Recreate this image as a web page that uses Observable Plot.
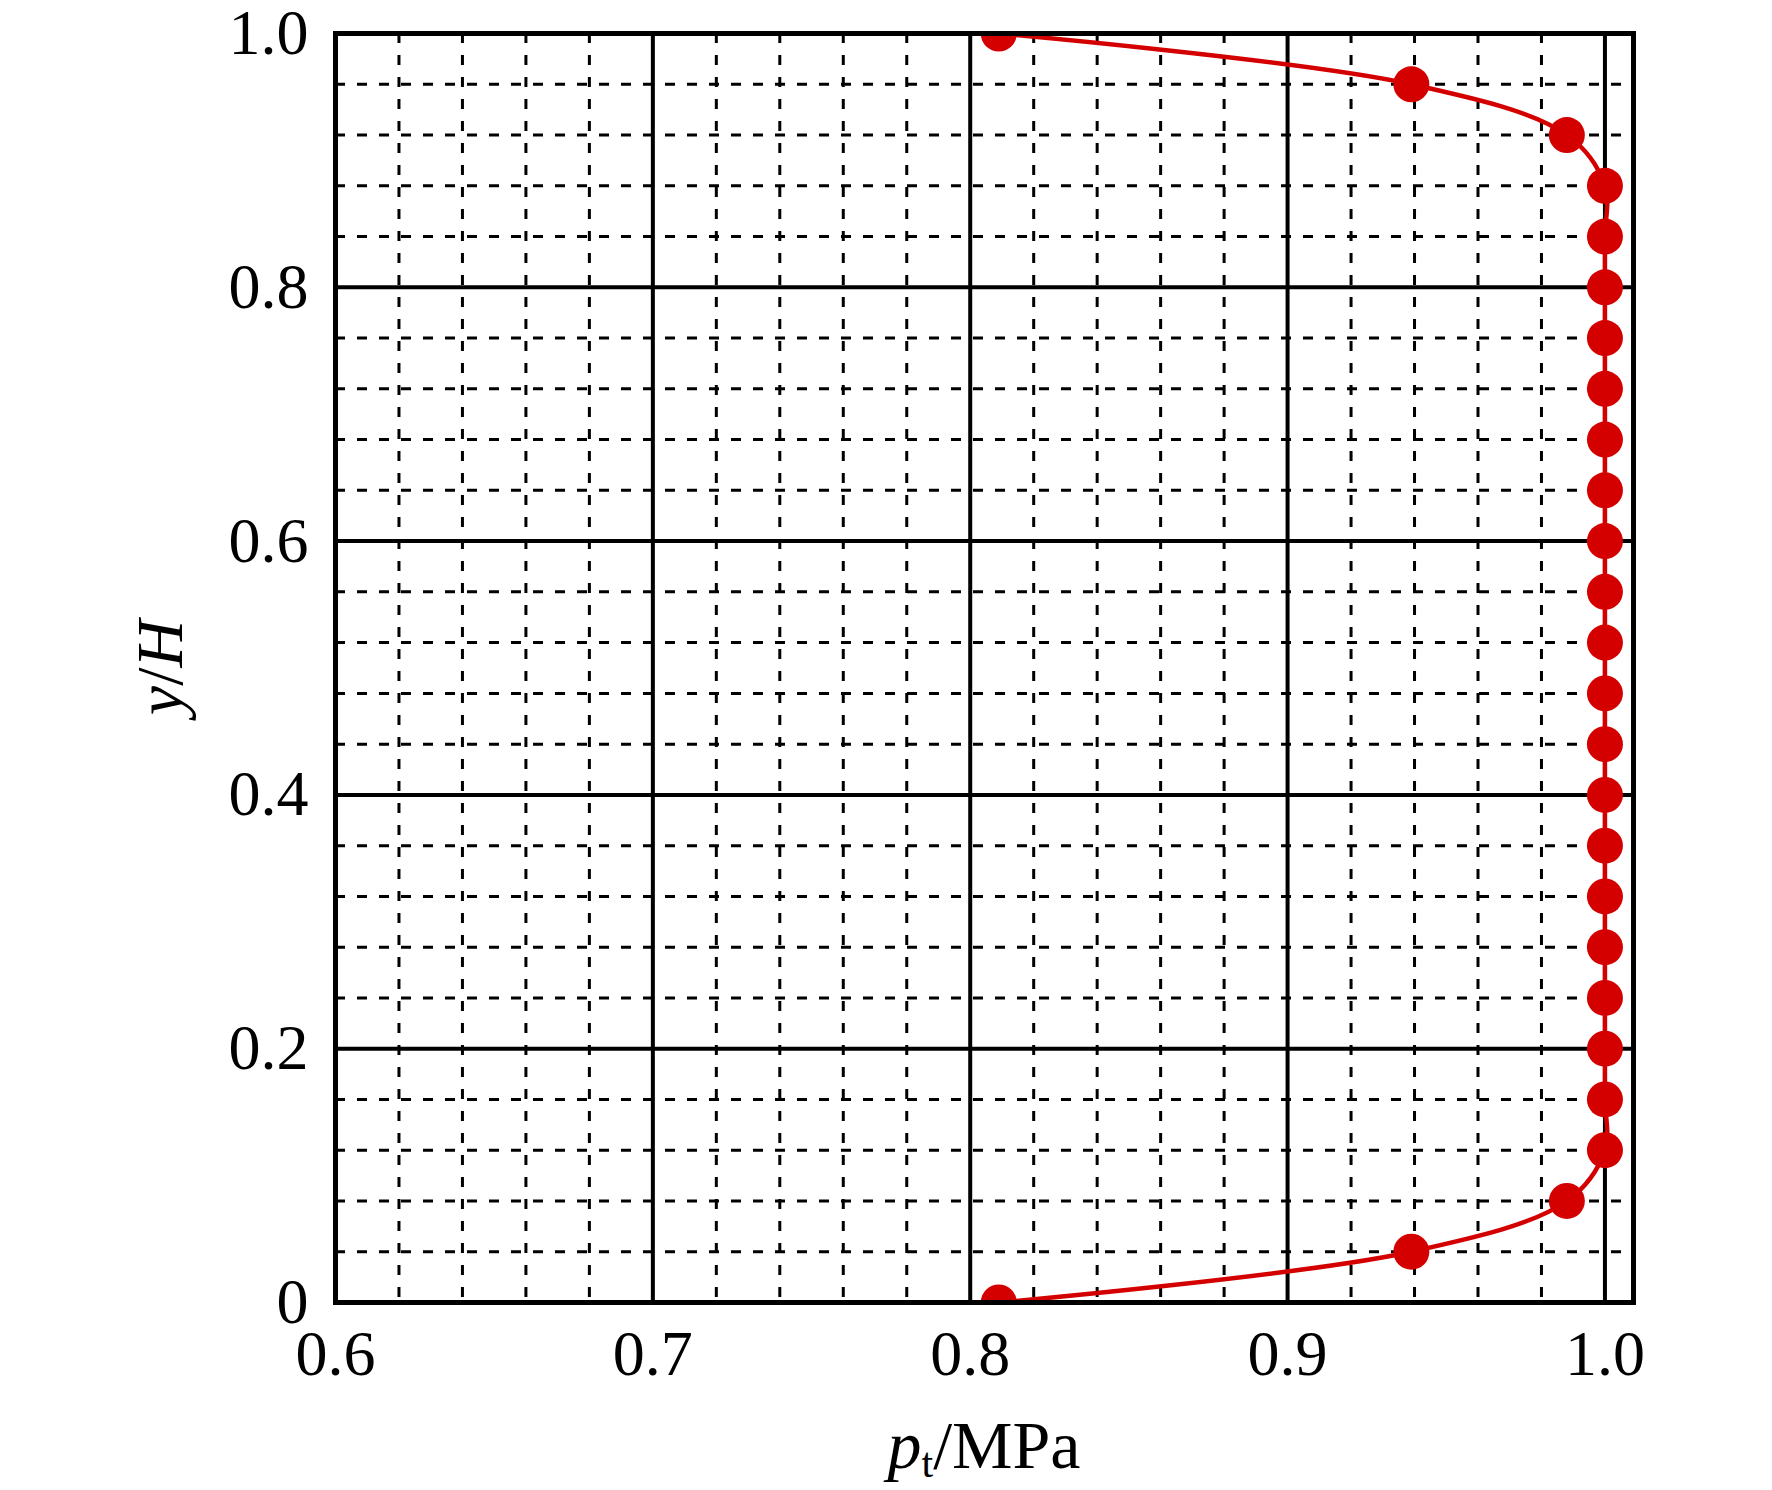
<!DOCTYPE html>
<html>
<head>
<meta charset="utf-8">
<script src="https://cdn.jsdelivr.net/npm/d3@7"></script>
<script src="https://cdn.jsdelivr.net/npm/@observablehq/plot@0.6"></script>
<style>
  html, body { margin: 0; padding: 0; background: white; overflow: hidden; }
</style>
</head>
<body>
<div id="chart"></div>
<script>
// Data
const yValues = [0, 0.04, 0.08, 0.12, 0.16, 0.20, 0.24, 0.28, 0.32, 0.36, 0.40, 0.44, 0.48,
                 0.52, 0.56, 0.60, 0.64, 0.68, 0.72, 0.76, 0.80, 0.84, 0.88, 0.92, 0.96, 1.00];
const ptValues = [0.809, 0.939, 0.988, 1.0, 1.0, 1.0, 1.0, 1.0, 1.0, 1.0, 1.0, 1.0, 1.0,
                  1.0, 1.0, 1.0, 1.0, 1.0, 1.0, 1.0, 1.0, 1.0, 1.0, 0.988, 0.939, 0.809];

// Ticks and grid positions
const xTicks = [0.6, 0.7, 0.8, 0.9, 1.0];
const yTicks = [0, 0.2, 0.4, 0.6, 0.8, 1.0];
const xMajor = [0.7, 0.8, 0.9, 1.0];
const yMajor = [0.2, 0.4, 0.6, 0.8];
const xMinor = [0.62, 0.64, 0.66, 0.68, 0.72, 0.74, 0.76, 0.78, 0.82, 0.84, 0.86, 0.88,
                0.92, 0.94, 0.96, 0.98];
const yMinor = [0.04, 0.08, 0.12, 0.16, 0.24, 0.28, 0.32, 0.36, 0.44, 0.48, 0.52, 0.56,
                0.64, 0.68, 0.72, 0.76, 0.84, 0.88, 0.92, 0.96];

const data = yValues.map((y, i) => ({y, x: ptValues[i]}));
const red = "#d40000";

const W = 1772, H = 1490;
const mL = 335, mR = 139, mT = 33, mB = 188;

const plot = Plot.plot({
  width: W,
  height: H,
  marginLeft: mL,
  marginRight: mR,
  marginTop: mT,
  marginBottom: mB,
  style: {fontFamily: "'Liberation Serif', 'Times New Roman', serif", fontSize: "64px", background: "white", color: "black", overflow: "visible"},
  x: {domain: [0.6, 1.009], ticks: xTicks, tickFormat: d => d.toFixed(1), tickSize: 0, tickPadding: 27, label: null},
  y: {domain: [0, 1], ticks: yTicks, tickFormat: d => d === 0 ? "0" : d.toFixed(1), tickSize: 0, tickPadding: 27, label: null},
  marks: [
    Plot.ruleX(xMinor, {stroke: "black", strokeWidth: 3, strokeDasharray: "10,12"}),
    Plot.ruleY(yMinor, {stroke: "black", strokeWidth: 3, strokeDasharray: "10,12"}),
    Plot.ruleX(xMajor, {stroke: "black", strokeWidth: 4}),
    Plot.ruleY(yMajor, {stroke: "black", strokeWidth: 4}),
    Plot.line(data, {x: "x", y: "y", curve: "catmull-rom", stroke: red, strokeWidth: 4.5, clip: true}),
    Plot.dot(data, {x: "x", y: "y", r: 18, fill: red, stroke: "none", clip: true}),
    Plot.frame({stroke: "black", strokeWidth: 5})
  ]
});

document.getElementById("chart").appendChild(plot);

// Axis titles with italic / subscript parts
const svg = d3.select(plot);
const ff = "'Liberation Serif', 'Times New Roman', serif";

const yl = svg.append("text")
  .attr("transform", `translate(182, ${(mT + H - mB) / 2}) rotate(-90)`)
  .attr("text-anchor", "middle")
  .attr("font-family", ff)
  .attr("font-size", 66)
  .attr("fill", "black");
yl.append("tspan").attr("font-style", "italic").text("y");
yl.append("tspan").text("/");
yl.append("tspan").attr("font-style", "italic").text("H");

const xl = svg.append("text")
  .attr("x", (mL + W - mR) / 2)
  .attr("y", 1468)
  .attr("text-anchor", "middle")
  .attr("font-family", ff)
  .attr("font-size", 68)
  .attr("fill", "black");
xl.append("tspan").attr("font-style", "italic").text("p");
xl.append("tspan").attr("font-size", 42).attr("dy", 9).text("t");
xl.append("tspan").attr("dy", -9).text("/MPa");
</script>
</body>
</html>
